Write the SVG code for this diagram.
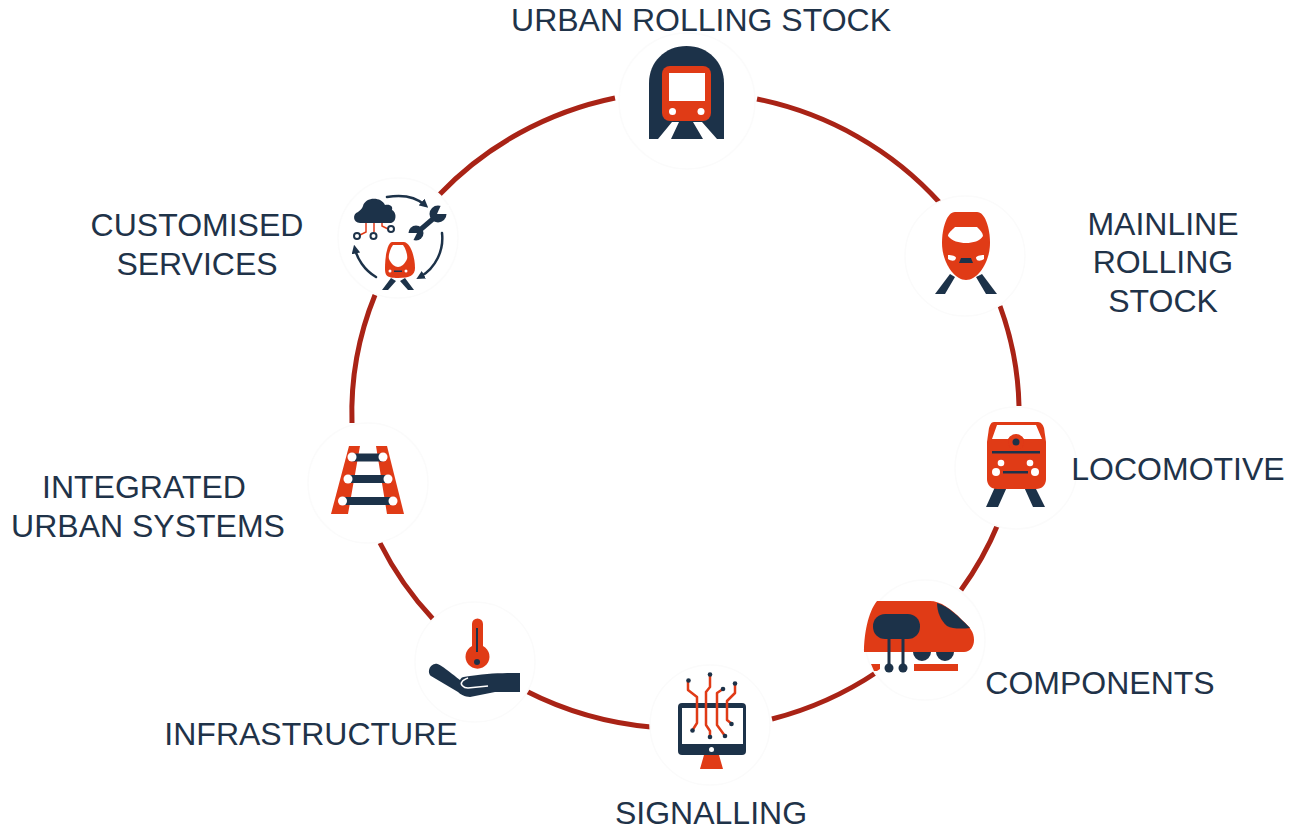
<svg xmlns="http://www.w3.org/2000/svg" width="1289" height="831" viewBox="0 0 1289 831">
<style>
.t{font-family:"Liberation Sans",Arial,sans-serif;font-size:32px;fill:#1f3349;text-anchor:middle}
.halo{fill:#fff;stroke:#fbfbfb;stroke-width:1.5}
.r{fill:#e03a18}.n{fill:#1f3349}.w{fill:#fff}
.sn{fill:none;stroke:#1f3349;stroke-linecap:round;stroke-linejoin:round}
.sr{fill:none;stroke:#e03a18;stroke-linejoin:round}
.arc{fill:none;stroke:#a92316;stroke-width:5}
.i{filter:url(#soft)}
</style>
<defs>
<filter id="soft" x="-5%" y="-5%" width="110%" height="110%"><feGaussianBlur stdDeviation="0.45"/></filter>
<marker id="ah" markerWidth="3.500" markerHeight="3.500" refX="1.800" refY="1.750" orient="auto"><path d="M0,0L3.500,1.750L0,3.500Z" fill="#1f3349"/></marker>
</defs>
<rect width="1289" height="831" fill="#fff"/>
<g id="connectors">
<path class="arc" d="M757,99A333,321 0 0 1 940,203"/>
<path class="arc" d="M1000,306A333,321 0 0 1 1019,406"/>
<path class="arc" d="M998,524A333,321 0 0 1 961,590"/>
<path class="arc" d="M877,672A333,321 0 0 1 772,719"/>
<path class="arc" d="M651,727A333,321 0 0 1 526,691"/>
<path class="arc" d="M433,619A333,321 0 0 1 380,543"/>
<path class="arc" d="M352,423A333,321 0 0 1 375,295"/>
<path class="arc" d="M439,195A333,321 0 0 1 615,98"/>
</g>
<g id="urban-rolling-stock">
<circle class="halo" cx="687" cy="101" r="68"/>
<g class="i">
<path class="n" d="M649,139V83C649,62 665,46 686.500,46C708,46 724,62 724,83V139Z"/>
<path class="w" d="M658,139L672,122H679L671,139ZM703,139L693,122H702L717,139Z"/>
<rect class="r" x="662" y="66" width="49" height="55" rx="8"/>
<rect class="w" x="669" y="73" width="36" height="28"/>
<circle class="w" cx="672.500" cy="111.500" r="3.500"/><circle class="w" cx="701" cy="111.500" r="3.500"/>
</g>
<text class="t" x="701" y="31">URBAN ROLLING STOCK</text>
</g>
<g id="mainline-rolling-stock">
<circle class="halo" cx="965" cy="256" r="60"/>
<g class="i">
<path class="n" d="M950,274L955,277L945,294H935ZM982,274L976,277L986,294H997Z"/>
<path class="r" d="M955,212H977C985,212 990,228 990,243C990,262 978,280 966,280C954,280 942,262 942,243C942,228 947,212 955,212Z"/>
<path class="w" d="M955,227H977C980,230 983,233 983,236C980,241 973,243 966,243C959,243 952,241 948,236C948,233 952,230 955,227Z"/>
<path class="w" d="M948,255C952,255 956,256 956,258C955,262 951,261 948,259ZM984,255C980,255 976,256 976,258C977,262 981,261 984,259Z"/>
<path class="n" d="M961,258H971L973,263H959Z"/>
</g>
<text class="t"><tspan x="1163" y="235">MAINLINE</tspan><tspan x="1163" y="273">ROLLING</tspan><tspan x="1163" y="312">STOCK</tspan></text>
</g>
<g id="locomotive">
<circle class="halo" cx="1016" cy="468" r="61"/>
<g class="i">
<path class="n" d="M995,487H1007L998,507H986ZM1024,487H1035L1045,507H1033Z"/>
<path class="r" d="M994,422H1038C1041,422 1043,425 1044,428L1046,442V479C1046,485 1042,489 1036,489H997C991,489 987,485 987,479V442L989,428C990,425 991,422 994,422Z"/>
<path class="w" d="M997,425H1036L1042,439H1024C1021,434 1011,434 1008,439H992Z"/>
<circle class="r" cx="1016" cy="442" r="8"/>
<circle class="n" cx="1016" cy="442" r="3.500"/>
<rect class="n" x="992" y="451" width="48" height="2.500"/>
<rect class="n" x="1003" y="471" width="25" height="2.500"/>
<circle class="w" cx="1001" cy="463" r="3.300"/><circle class="w" cx="1030" cy="463" r="3.300"/>
<circle class="w" cx="996" cy="472" r="4"/><circle class="w" cx="1035" cy="472" r="4"/>
</g>
<text class="t" x="1178" y="480">LOCOMOTIVE</text>
</g>
<g id="components">
<circle class="halo" cx="925" cy="640" r="60"/>
<g class="i">
<path class="n" d="M913,652H931A9,9 0 0 1 913,652ZM936,652H954A9,9 0 0 1 936,652Z"/>
<path class="r" d="M877,601H930C940,601 952,609 962,620C970,627 974,632 974,640C974,647 970,652 964,652H864C864,635 868,612 877,601Z"/>
<path class="n" d="M937,603C948,606 958,616 970,628C962,629 952,629 947,626C941,621 937,612 937,603Z"/>
<rect class="n" x="873" y="614" width="47" height="25" rx="12"/>
<path class="sn" stroke-width="3" d="M889,638V668M903,638V668"/>
<circle class="n" cx="889" cy="668" r="4.500"/><circle class="n" cx="903" cy="668" r="4.500"/>
<path class="r" d="M914,664H958V671H914ZM871,664H880V669L877,671H874Z"/>
</g>
<text class="t" x="1100" y="694">COMPONENTS</text>
</g>
<g id="signalling">
<circle class="halo" cx="710" cy="725" r="60"/>
<g class="i">
<rect class="n" x="678" y="703" width="68" height="52" rx="4"/>
<rect class="w" x="682" y="708" width="61" height="36"/>
<circle class="w" cx="711.500" cy="749.500" r="2.500"/>
<path class="r" d="M704,755H719L723,769H700Z"/>
<path class="sr" stroke-width="2.500" d="M688,681V690L697,697V723L692,731M710,674V687L706,692V725L710,731V737M723,689L717,693V725L725,736M735,683V693L727,701V720L732,724"/>
<g class="n"><circle cx="688.500" cy="680.500" r="2.300"/><circle cx="710" cy="674.500" r="2.300"/><circle cx="723" cy="689" r="2.300"/><circle cx="735" cy="683.500" r="2.300"/><circle cx="692.500" cy="730.500" r="2.300"/><circle cx="710" cy="737" r="2.300"/><circle cx="725" cy="736" r="2.300"/><circle cx="731.500" cy="724" r="2.300"/></g>
</g>
<text class="t" x="711" y="824">SIGNALLING</text>
</g>
<g id="infrastructure">
<circle class="halo" cx="475" cy="662" r="60"/>
<g class="i">
<path class="r" d="M472,624A5.500,5.500 0 0 1 483,624V646A12,12 0 1 1 472,646Z"/>
<rect class="n" x="476" y="628" width="2" height="24"/>
<circle class="n" cx="477" cy="662" r="3"/>
<path class="n" d="M520,673V692H495L470,697C465,697 460,694 458,692L431,676C427,673 429,665 435,664C438,663 441,665 460,680C462,676 465,677 470,676C490,673 505,673 520,673Z"/>
<path fill="none" stroke="#fff" stroke-width="1.500" d="M488,686L468,688C463,688 460,684 462,682C463,680 465,679 468,678"/>
</g>
<text class="t" x="311" y="745">INFRASTRUCTURE</text>
</g>
<g id="integrated-urban-systems">
<circle class="halo" cx="368" cy="483" r="60"/>
<g class="i">
<path class="r" d="M349,446H360L348,514H331ZM376,446H387L404,514H387Z"/>
<rect class="n" x="352" y="453.500" width="31" height="8"/>
<rect class="n" x="348" y="475" width="40" height="8"/>
<rect class="n" x="342" y="497" width="51" height="8"/>
<g class="w"><circle cx="352" cy="457" r="4.500"/><circle cx="383" cy="457" r="4.500"/><circle cx="348" cy="479" r="4.500"/><circle cx="388" cy="479" r="4.500"/><circle cx="342.500" cy="501" r="4.500"/><circle cx="393" cy="501" r="4.500"/></g>
</g>
<text class="t"><tspan x="144" y="498">INTEGRATED</tspan><tspan x="148" y="537">URBAN SYSTEMS</tspan></text>
</g>
<g id="customised-services">
<circle class="halo" cx="398" cy="238" r="60"/>
<g class="i">
<path class="n" d="M360,223C353,223 352,214 358,212C360,210 362,209 363,206C365,197 381,196 385,205C391,204 393,207 392,210C397,212 397,223 390,223Z"/>
<path fill="none" stroke="#e03a18" stroke-width="1.500" d="M366,223V232L360,235M374,223V232M382,223V226L388,229"/>
<g fill="#fff" stroke="#1f3349" stroke-width="2"><circle cx="357" cy="236" r="3"/><circle cx="373.500" cy="236" r="3"/><circle cx="391" cy="229" r="3"/></g>
<path class="sn" stroke-width="5" d="M420,230L434,218"/>
<circle class="n" cx="438" cy="214" r="8.500"/>
<circle class="n" cx="416" cy="233" r="7.500"/>
<path class="w" d="M437,214L441,205L449,205L448,214Z"/>
<path class="w" d="M417,233L407,233L407,242L413,241Z"/>
<path class="sn" stroke-width="2.500" marker-end="url(#ah)" d="M387,197C404,194 417,198 425,205"/>
<path class="sn" stroke-width="2.500" marker-end="url(#ah)" d="M442,233C444,250 436,268 420,277"/>
<path class="sn" stroke-width="2.500" marker-end="url(#ah)" d="M376,277C364,270 357,258 355,249"/>
<path class="n" d="M391,278L396,281L388,290H382ZM405,278L400,281L408,290H414Z"/>
<path class="r" d="M392,242H404C411,243 415,258 415,268C415,275 410,278 398,278C386,278 385,275 385,268C385,258 387,243 392,242Z"/>
<path class="w" d="M393,245H403C406,249 408,256 407,259C405,264 401,267 398,267C395,267 391,264 389,259C388,256 390,249 393,245Z"/>
<circle class="w" cx="390" cy="271" r="1.500"/><circle class="w" cx="406" cy="271" r="1.500"/>
<path class="n" d="M394,270.500H402V272H394Z"/>
</g>
<text class="t"><tspan x="197" y="236">CUSTOMISED</tspan><tspan x="197" y="275">SERVICES</tspan></text>
</g>
</svg>
